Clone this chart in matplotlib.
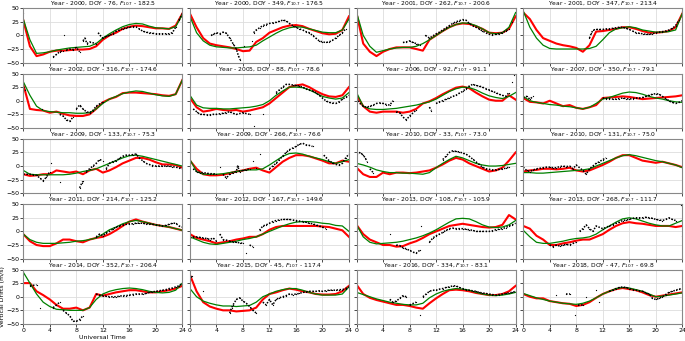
import numpy as np
import matplotlib.pyplot as plt

hours = list(range(25))

years = [2000, 2000, 2001, 2001, 2002, 2005, 2006, 2007, 2009, 2009,
         2010, 2010, 2011, 2012, 2013, 2013, 2014, 2015, 2016, 2018]
doys = [76, 349, 262, 347, 316, 88, 92, 350, 133, 266,
        33, 131, 214, 167, 108, 268, 352, 45, 334, 47]
f107 = ['182.5', '176.5', '200.6', '213.4', '174.6', '78.6', '91.1', '79.1', '75.3', '76.6',
        '73.0', '75.0', '125.2', '149.6', '105.9', '111.7', '206.4', '117.4', '83.1', '69.8']

# green = model, red = second model (hourly), k = observed drifts (UT, value)
g1 = [30, -8, -33, -32, -30, -27, -25, -23, -22, -21, -20, -15, -5, 3, 10, 16, 20, 22, 21, 17, 14, 13, 12, 16, 38]
r1 = [28, -20, -38, -35, -30, -28, -28, -27, -26, -26, -25, -20, -8, 0, 5, 12, 16, 18, 17, 15, 13, 13, 12, 18, 40]
k1 = [(0, 42), (4.5, -40), (5, -35), (5.5, -30), (6, -28), (6.2, 0), (6.5, -27), (7, -25), (7.5, -26), (8, -22),
      (8.5, -30), (9, -10), (9.3, -5), (9.6, -15), (10, -12), (11, -15), (11.3, 5), (11.6, 0), (12, -5), (12.5, -2),
      (13, 0), (13.5, 3), (14, 8), (14.5, 10), (15, 12), (15.5, 14), (16, 15), (16.5, 16), (17, 16), (17.5, 12),
      (18, 8), (18.5, 6), (19, 5), (19.5, 4), (20, 3), (20.5, 3), (21, 3), (21.5, 3), (22, 3), (22.5, 5),
      (23, 15), (23.5, 28), (24, 40)]

g2 = [35, 5, -10, -18, -21, -22, -23, -23, -22, -21, -18, -10, -3, 4, 10, 14, 16, 15, 12, 9, 6, 5, 5, 10, 30]
r2 = [40, 15, -5, -15, -18, -20, -22, -25, -29, -28, -12, -5, 5, 10, 15, 18, 19, 17, 12, 8, 4, 2, 3, 10, 35]
k2 = [(3.2, 0), (3.5, 2), (4, 5), (4.5, 3), (5, 6), (5.5, 4), (6, -5), (6.5, -15), (7, -25), (7.3, -37),
      (7.6, -45), (8.2, -20), (9.3, -10), (9.6, 5), (10, 10), (10.5, 14), (11, 18), (11.5, 20), (12, 22), (12.5, 23),
      (13, 24), (13.5, 26), (14, 28), (14.5, 27), (15, 22), (15.5, 18), (16, 15), (16.5, 12), (17, 10), (17.5, 7),
      (18, 5), (18.5, 0), (19, -5), (19.5, -10), (20, -12), (20.5, -13), (21, -12), (21.5, -9), (22, -5), (22.5, 0),
      (23, 5), (23.5, 12), (24, 25)]

g3 = [42, 0, -20, -31, -28, -25, -23, -22, -22, -20, -15, -8, 0, 8, 15, 20, 23, 22, 18, 12, 5, 3, 5, 15, 42]
r3 = [40, -15, -30, -38, -30, -25, -22, -22, -22, -25, -28, -8, 0, 8, 15, 20, 22, 21, 17, 12, 5, 4, 5, 12, 35]
k3 = [(7, -13), (7.5, -12), (8, -10), (8.5, -13), (9, -15), (9.5, -18), (10.4, 0), (11, -5), (12, 3), (12.5, 6),
      (13, 10), (13.5, 14), (14, 18), (14.5, 22), (15, 25), (15.5, 27), (16, 29), (16.5, 28), (17, 22), (17.5, 18),
      (18, 15), (18.5, 12), (19, 8), (19.5, 5), (20, 2), (20.5, 1), (21, 2), (21.5, 3), (22, 5), (22.5, 8),
      (23, 12), (23.5, 25), (24, 48)]

g4 = [45, 15, -5, -18, -24, -25, -25, -25, -25, -25, -24, -20, -8, 5, 12, 14, 16, 14, 10, 8, 6, 6, 7, 10, 40]
r4 = [42, 30, 10, -5, -10, -15, -18, -20, -23, -30, -18, 7, 8, 10, 12, 15, 15, 12, 8, 5, 5, 6, 8, 15, 40]
k4 = [(10, -5), (10.3, 5), (10.6, 10), (11, 11), (11.5, 11), (12, 11), (12.5, 12), (13, 12), (13.5, 13), (14, 14),
      (14.5, 15), (15, 15), (15.5, 13), (16, 11), (16.5, 8), (17, 5), (17.5, 4), (18, 3), (18.5, 2), (19, 2),
      (19.5, 3), (20, 5), (20.5, 6), (21, 7), (21.5, 8), (22, 10), (22.5, 13), (23, 18), (23.5, 28), (24, 45)]

g5 = [35, 10, -10, -18, -20, -21, -22, -22, -23, -23, -22, -15, -5, 3, 8, 13, 16, 18, 17, 14, 11, 9, 8, 12, 38]
r5 = [30, -15, -17, -18, -22, -20, -24, -27, -28, -28, -25, -15, -3, 3, 7, 14, 15, 15, 14, 13, 12, 10, 9, 12, 38]
k5 = [(0, 25), (0.3, 20), (2.8, -15), (5.5, -25), (6, -28), (6.5, -35), (7, -38), (7.5, -30), (8, -15), (8.5, -8),
      (9, -15), (9.5, -20), (10, -22), (10.5, -18), (11, -10), (11.5, -6), (12, -3)]

g6 = [10, -8, -13, -14, -14, -15, -15, -14, -13, -12, -10, -7, 0, 10, 18, 25, 25, 24, 20, 14, 8, 5, 3, 5, 15]
r6 = [5, -12, -20, -18, -15, -17, -18, -17, -20, -18, -15, -12, -5, 5, 15, 25, 28, 30, 25, 18, 12, 8, 7, 10, 25]
k6 = [(0, 5), (0.5, -15), (1, -20), (1.5, -25), (2, -25), (2.5, -26), (3, -26), (3.5, -25), (4, -25), (4.5, -24),
      (5, -23), (5.5, -22), (6, -20), (6.5, -23), (7, -25), (8, -22), (9, -25), (9.6, -47), (11, -25), (13, 15),
      (13.5, 20), (14, 25), (14.5, 30), (15, 30), (15.5, 29), (16, 28), (16.5, 27), (17, 25), (17.5, 22), (18, 20),
      (18.5, 18), (19, 15), (19.5, 10), (20, 5), (20.5, 0), (21, -3), (21.5, -4), (22, -5), (22.5, -2), (23, 3),
      (23.5, 6), (24, 10)]

g7 = [15, -10, -15, -16, -16, -15, -14, -12, -10, -8, -5, -2, 3, 10, 17, 22, 25, 24, 20, 14, 9, 6, 4, 8, 15]
r7 = [10, -10, -20, -22, -20, -20, -20, -22, -20, -15, -5, -1, 5, 12, 18, 24, 26, 23, 15, 8, 2, 0, 0, 10, 2]
k7 = [(0, 5), (0.5, -5), (1, -10), (1.5, -12), (2, -10), (2.5, -8), (3, -5), (3.5, -4), (4, -5), (4.5, -7),
      (5, -8), (5.5, 0), (6, -20), (6.5, -22), (7, -30), (7.5, -35), (8, -28), (9, -17), (11, -12), (11.3, -18),
      (12, -5), (12.5, -2), (13, 0), (13.5, 3), (14, 5), (14.5, 8), (15, 10), (15.5, 14), (16, 17), (16.5, 22),
      (17, 27), (17.5, 30), (18, 28), (18.5, 27), (19, 25), (19.5, 22), (20, 20), (20.5, 17), (21, 15), (21.5, 12),
      (22, 10), (22.5, 8), (23, 15), (23.5, 35), (23.8, 48)]

g8 = [8, 0, -3, -5, -7, -8, -10, -11, -13, -15, -12, -5, 3, 6, 10, 14, 16, 15, 12, 8, 5, 3, 0, -2, -3]
r8 = [5, -2, -3, -5, 0, -5, -10, -8, -13, -15, -12, -8, 5, 6, 7, 8, 7, 5, 3, 4, 5, 6, 7, 8, 10]
k8 = [(0, 5), (0.5, 8), (1, 3), (1.5, 8), (12, 5), (12.5, 4), (13, 4), (13.5, 3), (14, 3), (14.5, 4),
      (15, 5), (15.5, 4), (16, 3), (16.5, 4), (17, 5), (17.5, 5), (18, 6), (18.5, 8), (19, 10), (19.5, 12),
      (20, 13), (20.5, 12), (21, 8), (21.5, 4), (22, 0), (22.5, -3), (23, -5), (23.5, -3), (24, 0)]

g9 = [-8, -15, -16, -16, -16, -16, -16, -15, -13, -10, -8, -5, 0, 5, 10, 15, 19, 20, 18, 15, 12, 9, 6, 3, 0]
r9 = [-15, -18, -17, -15, -15, -8, -10, -12, -10, -15, -8, -5, -12, -8, -2, 5, 10, 15, 15, 12, 7, 3, 3, 2, -3]
k9 = [(0, -15), (0.5, -15), (1, -15), (1.5, -16), (2, -17), (2.5, -22), (3, -27), (3.5, -20), (4, -10), (4.2, 5),
      (5.5, -30), (8.5, -40), (8.8, -32), (9, -28), (9.5, -10), (10, -5), (10.5, 0), (11, 5), (11.5, 12), (12, 10),
      (12.5, -5), (13, 5), (13.5, 8), (14, 10), (14.5, 14), (15, 18), (15.5, 20), (16, 20), (16.5, 21), (17, 22),
      (17.5, 15), (18, 10), (18.5, 5), (19, 3), (19.5, 1), (20, 0), (20.5, 0), (21, 0), (21.5, 0), (22, 0),
      (22.5, -1), (23, -2), (23.5, -3), (24, -5)]

g10 = [12, -10, -15, -15, -15, -14, -12, -10, -8, -7, -7, -5, 2, 10, 18, 23, 24, 22, 18, 15, 12, 8, 5, 8, 12]
r10 = [10, -5, -15, -17, -17, -16, -13, -10, -8, -5, -3, -8, -12, -2, 8, 15, 20, 20, 18, 14, 10, 5, 5, 10, 8]
k10 = [(0, 8), (0.5, -5), (1, -10), (1.5, -12), (2, -12), (2.5, -13), (3, -14), (3.5, -14), (4, -15), (4.5, -2),
       (5, -15), (5.5, -22), (6, -15), (6.5, -12), (7, -10), (7.2, 0), (7.5, -10), (8, -8), (8.5, -7), (9, -5),
       (9.5, 10), (10, -3), (10.5, 22), (12, -5), (12.5, 0), (13, 5), (13.5, 12), (14, 18), (14.5, 25), (15, 30),
       (15.5, 33), (16, 36), (16.5, 40), (17, 42), (17.5, 39), (18, 38), (18.5, 36), (20.2, 20), (20.5, 16), (21, 10),
       (21.5, 6), (22, 3), (22.5, 2), (23, 5), (23.5, 15), (24, 22)]

g11 = [5, 2, -2, -7, -10, -12, -12, -13, -13, -14, -15, -12, -3, 5, 12, 18, 15, 10, 5, 2, 0, 0, 1, 3, 5]
r11 = [-3, -15, -20, -20, -12, -15, -12, -12, -13, -12, -10, -8, -3, 3, 10, 15, 12, 5, 0, -5, -10, -8, -3, 10, 25]
k11 = [(0, 22), (0.3, 25), (0.6, 24), (1, 20), (1.3, 15), (1.6, 8), (2, -5), (2.5, -12), (13, 12), (13.5, 18),
       (14, 25), (14.5, 28), (15, 27), (15.5, 26), (16, 24), (16.5, 22), (17, 18), (17.5, 13), (18, 8), (18.5, 3),
       (19, -2), (19.5, -5), (20, -6), (20.5, -7), (21, -7), (21.5, -6), (22, -5), (22.5, -4), (23, -2)]

g12 = [-12, -12, -13, -13, -12, -11, -10, -9, -8, -7, -5, 0, 5, 10, 15, 19, 21, 19, 16, 13, 10, 8, 5, 2, -3]
r12 = [-10, -8, -7, -5, -5, -6, -5, -3, -8, -10, -8, -3, 2, 8, 15, 20, 20, 15, 10, 8, 6, 8, 5, 2, -2]
k12 = [(0, -2), (0.5, -8), (1, -10), (1.5, -7), (2, -5), (2.5, -4), (3, -3), (3.5, -2), (4, -2), (4.5, -3),
       (5, -3), (5.5, -1), (6, 0), (6.5, -1), (7, 0), (7.5, -5), (8, 2), (9, -8), (9.5, -15), (10, -5),
       (10.5, 0), (11, 5), (11.5, 8), (12, 12), (12.5, 15)]

g13 = [-5, -15, -20, -22, -22, -22, -21, -20, -18, -17, -15, -12, -5, 3, 8, 14, 18, 20, 18, 15, 12, 10, 8, 5, 2]
r13 = [-5, -18, -25, -27, -27, -22, -15, -15, -18, -20, -15, -12, -10, -5, 2, 10, 18, 22, 18, 15, 12, 10, 8, 5, 2]
k13 = [(11, -10), (11.5, -5), (12, -8), (12.5, -3), (13, 0), (13.5, 4), (14, 8), (14.5, 10), (15, 12), (15.5, 13),
       (16, 14), (16.5, 14), (17, 15), (17.5, 15), (18, 15), (18.5, 14), (19, 14), (19.5, 13), (20, 12), (20.5, 11),
       (21, 10), (21.5, 11), (22, 13), (22.5, 15), (23, 15), (23.5, 10), (24, 8)]

g14 = [-10, -15, -20, -23, -24, -22, -20, -18, -15, -13, -10, -5, 0, 5, 10, 14, 17, 18, 18, 17, 15, 14, 11, 10, 0]
r14 = [-5, -12, -15, -18, -22, -20, -18, -15, -13, -10, -10, -5, 3, 8, 10, 10, 10, 10, 10, 10, 9, 8, 5, 2, -10]
k14 = [(0, -12), (0.5, -10), (1, -10), (1.5, -11), (2, -12), (2.5, -13), (3, -15), (3.5, -12), (4, -18), (4.5, -5),
       (5, -15), (5.5, -16), (6, -18), (6.5, -19), (7, -20), (7.5, -21), (8, -22), (8.5, -40), (9, -25), (9.5, -28),
       (10.5, 2), (11, 10), (11.5, 12), (12, 15), (12.5, 18), (13, 20), (13.5, 21), (14, 22), (14.5, 22), (15, 22),
       (15.5, 21), (16, 20), (16.5, 19), (17, 18), (17.5, 17), (18, 15), (18.5, 14), (19, 12), (19.5, 10), (20, 8),
       (20.5, 5)]

g15 = [12, -10, -20, -23, -22, -21, -20, -18, -15, -12, -8, -3, 3, 10, 17, 23, 24, 23, 18, 12, 8, 7, 8, 12, 20]
r15 = [12, -5, -15, -20, -25, -25, -28, -27, -22, -18, -12, -5, 0, 5, 10, 12, 14, 12, 10, 8, 7, 8, 12, 30, 22]
k15 = [(0, 30), (5, -5), (6, -25), (6.5, -26), (7, -30), (7.5, -32), (8, -35), (8.5, -38), (9, -40), (9.5, -35),
       (9.7, 10), (11, -20), (11.5, -12), (12, -8), (12.5, -5), (13, -2), (13.5, 2), (14, 5), (14.5, 6), (15, 5),
       (15.5, 5), (16, 5), (16.5, 4), (17, 3), (17.5, 2), (18, 0), (18.5, 0), (19, 0), (19.5, 0), (20, 0),
       (20.5, 1), (21, 3), (21.5, 4), (22, 5), (22.5, 7), (23, 10), (23.5, 12), (24, 15)]

g16 = [2, -10, -20, -22, -22, -20, -18, -15, -13, -12, -10, -5, 3, 10, 17, 23, 25, 23, 19, 15, 12, 10, 10, 15, 20]
r16 = [10, 5, -8, -15, -25, -25, -22, -20, -17, -15, -15, -10, -5, 3, 10, 15, 17, 15, 14, 12, 10, 10, 10, 8, 10]
k16 = [(4, -25), (4.5, -28), (5, -25), (5.5, -27), (6, -25), (6.5, -24), (7, -25), (7.5, -22), (8, -20), (8.5, 0),
       (9, 5), (9.5, 12), (10, 5), (10.5, 0), (11, 10), (12, 5), (13, 10), (13.5, 12), (14, 15), (14.5, 17),
       (15, 20), (15.5, 21), (16, 22), (16.5, 24), (17, 25), (17.5, 25), (18, 25), (18.5, 26), (19, 25), (19.5, 24),
       (20, 22), (20.5, 21), (21, 20), (21.5, 22), (22, 25), (22.5, 22), (23, 20), (23.8, 48), (23.9, -8)]

g17 = [45, 25, 5, -10, -18, -23, -24, -25, -25, -25, -20, -5, 5, 10, 13, 15, 16, 15, 13, 10, 8, 7, 8, 12, 25]
r17 = [25, 25, 10, 3, -5, -15, -22, -22, -20, -25, -20, 5, 2, 5, 8, 10, 12, 12, 10, 8, 8, 10, 12, 15, 20]
k17 = [(1, 20), (2, 22), (2.5, -20), (4.5, -20), (5, -15), (5.5, -10), (6, -25), (6.5, -30), (7, -35), (7.5, -45),
       (8, -45), (8.5, -42), (9, -35), (11, 5), (11.5, 3), (12, 2), (12.5, 1), (13, 0), (13.5, 0), (14, 0),
       (14.5, 1), (15, 2), (15.5, 2), (16, 3), (16.5, 4), (17, 5), (17.5, 5), (18, 5), (18.5, 6), (19, 8),
       (19.5, 9), (20, 10), (20.5, 11), (21, 12), (21.5, 13), (22, 15), (22.5, 16), (23, 18), (23.5, 20), (24, 25)]

g18 = [15, 0, -8, -12, -15, -17, -17, -18, -17, -16, -10, 0, 5, 10, 13, 15, 15, 12, 8, 5, 3, 3, 3, 5, 18]
r18 = [40, 10, -10, -18, -22, -25, -25, -27, -26, -25, -20, -5, 5, 8, 12, 15, 13, 10, 8, 5, 4, 4, 5, 10, 20]
k18 = [(0, 30), (0.3, 38), (2, 10), (6, -30), (6.3, -20), (6.5, -15), (7, -5), (7.5, -2), (8, -8), (8.5, -12),
       (9, -18), (9.5, -25), (10, -30), (11, -10), (11.5, -15), (12, -5), (12.5, -15), (13, -5), (13.5, -2), (14, 0),
       (14.5, 2), (15, 5), (15.5, 4), (16, 5), (16.5, 6), (17, 8), (17.5, 9), (18, 10), (18.5, 10), (19, 10),
       (19.5, 11), (20, 10), (20.5, 11), (21, 12), (21.5, 12), (22, 12), (22.5, 13), (23, 13), (23.5, 15), (24, 18)]

g19 = [8, 4, 0, -4, -7, -10, -12, -14, -15, -15, -12, -2, 5, 10, 13, 15, 14, 12, 8, 5, 3, 2, 3, 5, 8]
r19 = [22, 5, -2, -6, -9, -12, -15, -15, -17, -20, -22, -12, -3, 5, 12, 13, 12, 10, 7, 5, 3, 3, 5, 10, 20]
k19 = [(5, -5), (5.5, -10), (6, -8), (6.5, -3), (7, 2), (7.5, 0), (8, -15), (9, -10), (9.5, -33), (10, 0),
       (10.5, 5), (11, 10), (11.5, 12), (12, 12), (12.5, 14), (13, 15), (13.5, 17), (14, 18), (14.5, 20), (15, 20),
       (15.5, 17), (16, 15), (16.5, 13), (17, 12), (17.5, 11), (18, 10), (18.5, 8), (19, 7), (19.5, 6), (20, 5),
       (20.5, 4), (21, 3), (21.5, 4), (22, 5), (22.5, 6), (23, 7), (23.5, 8), (24, 10)]

g20 = [6, 2, -2, -5, -8, -10, -12, -13, -14, -12, -8, -2, 5, 10, 15, 17, 16, 13, 10, 5, 0, 1, 3, 5, 7]
r20 = [5, 0, -3, -3, -8, -10, -12, -13, -17, -15, -10, -2, 5, 10, 14, 16, 14, 12, 8, 3, 0, 2, 4, 6, 8]
k20 = [(5, 3), (6.5, 5), (7, 5), (7.8, -33), (8.2, -15), (9, -15), (9.5, 0), (11, 12), (11.5, -10), (13, 10),
       (13.5, 12), (14, 15), (14.5, 17), (15, 18), (15.5, 17), (16, 15), (16.5, 13), (17, 12), (17.5, 11), (18, 10),
       (18.5, 7), (19, 5), (19.5, -3), (20, -5), (20.5, -3), (21, 0), (21.5, 4), (22, 8), (22.5, 10), (23, 12),
       (23.5, 14), (24, 15)]

greens = [g1, g2, g3, g4, g5, g6, g7, g8, g9, g10, g11, g12, g13, g14, g15, g16, g17, g18, g19, g20]
reds = [r1, r2, r3, r4, r5, r6, r7, r8, r9, r10, r11, r12, r13, r14, r15, r16, r17, r18, r19, r20]
obs = [k1, k2, k3, k4, k5, k6, k7, k8, k9, k10, k11, k12, k13, k14, k15, k16, k17, k18, k19, k20]

plt.rcParams['font.size'] = 4.5
fig, axes = plt.subplots(5, 4, figsize=(6.85, 3.41), dpi=100, sharex=True, sharey=True)
plt.subplots_adjust(left=0.034, right=0.996, top=0.976, bottom=0.05, wspace=0.048, hspace=0.2)

for i, ax in enumerate(axes.flat):
    ax.grid(True, color='#dddddd', lw=0.6)
    ax.set_axisbelow(True)
    ax.plot(hours, reds[i], color='red', lw=1.5)
    ax.plot(hours, greens[i], color='green', lw=0.9)
    t = np.array([p[0] for p in obs[i]])
    v = np.array([p[1] for p in obs[i]])
    # dotted segments where the observations are continuous
    cut = np.where((np.diff(t) > 1.01) | (np.abs(np.diff(v)) > 12))[0] + 1
    for st, sv in zip(np.split(t, cut), np.split(v, cut)):
        ax.plot(st, sv, color='black', ls=(0, (1, 1)), lw=1.1)
    ax.plot(t, v, 'k.', ms=1.8, mew=0)
    ax.set_title('Year - %d, DOY - %d, $F_{10.7}$ - %s' % (years[i], doys[i], f107[i]),
                 fontsize=4.3, pad=0.8)
    ax.set_xlim(0, 24)
    ax.set_ylim(-50, 50)
    ax.set_xticks(range(0, 25, 4))
    ax.set_yticks([-50, -25, 0, 25, 50])
    ax.tick_params(length=2, width=0.5, pad=1, labelsize=4.5)
    for s in ax.spines.values():
        s.set_color('#888888')
        s.set_linewidth(0.8)

axes[4, 0].set_xlabel('Universal Time', fontsize=4.5, labelpad=1)
axes[4, 0].set_ylabel('Vertical Drifts (m/s)', fontsize=4.5, labelpad=1)

plt.savefig('out.png', dpi=100)
